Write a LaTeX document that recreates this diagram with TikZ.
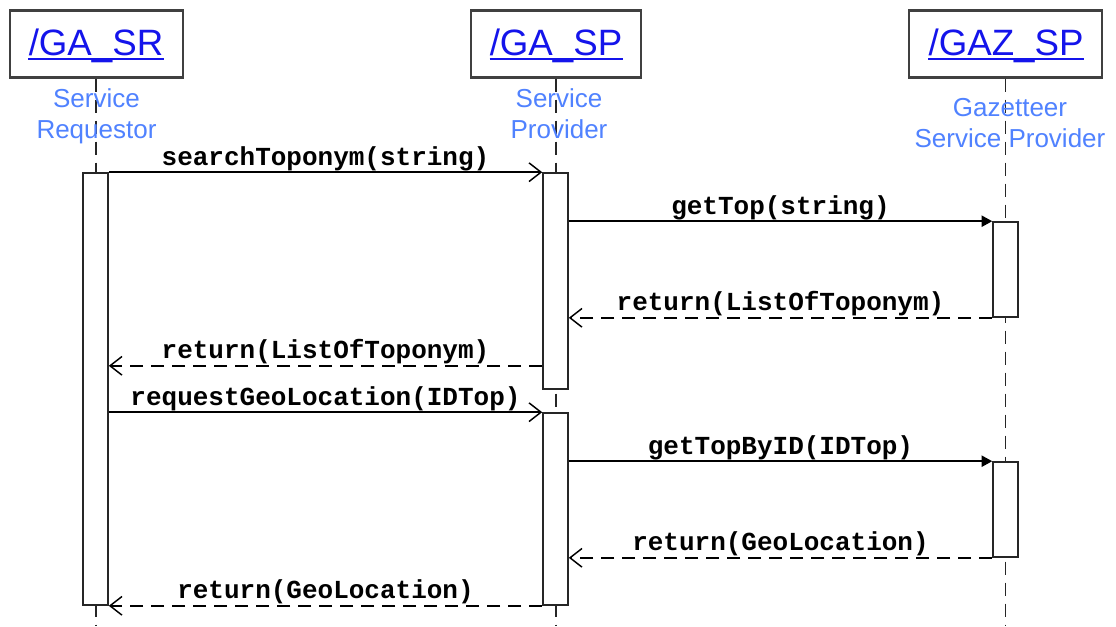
\documentclass[tikz,border=0pt]{standalone}
\usepackage{fontspec}
\setmainfont{Liberation Sans}
\setmonofont{Liberation Mono}
\usetikzlibrary{arrows.meta}
\definecolor{namecol}{RGB}{20,20,235}
\definecolor{subcol}{RGB}{80,130,255}
\begin{document}
\begin{tikzpicture}[x=0.75pt,y=-0.75pt,
  hdrbox/.style={draw=black!75, line width=1.6pt, fill=white, minimum height=50.25pt, inner sep=0pt},
  pname/.style={font=\fontsize{27.5}{33}\selectfont, text=namecol, anchor=base, inner sep=0pt},
  uline/.style={draw=namecol, line width=1.2pt},
  subtitle/.style={font=\fontsize{19.5}{23.25}\selectfont, text=subcol, align=center, inner sep=0pt, anchor=base},
  lifeline/.style={draw=black!85, line width=1.1pt, dash pattern=on 9.75pt off 6pt},
  actbox/.style={draw=black!85, line width=1.2pt, fill=white, minimum width=18.75pt, inner sep=0pt},
  msgarrow/.style={line width=1.1pt, -{Straight Barb[length=9pt,width=14pt]}},
  callarrow/.style={line width=1.1pt, -{Triangle[length=8pt,width=8.5pt]}},
  retarrow/.style={msgarrow, dash pattern=on 9.75pt off 6pt},
  msglabel/.style={font=\ttfamily\bfseries\fontsize{19.5}{22}\selectfont, anchor=base, yshift=5.25pt, inner sep=0pt}]
\useasboundingbox (0,0) rectangle (1116,626);
\fill[white] (0,0) rectangle (1116,626);

% header boxes
\node[hdrbox, minimum width=129.75pt] (hSR) at (96.5,44) {};
\node[hdrbox, minimum width=127.5pt] (hSP) at (556,44) {};
\node[hdrbox, minimum width=144.75pt] (hGAZ) at (1005.5,44) {};

% lifelines
\coordinate (eSR) at (96,626);
\coordinate (eSP) at (556,626);
\coordinate (eGAZ) at (1005.5,626);
\draw[lifeline] (hSR.south -| eSR) -- (eSR);
\draw[lifeline] (hSP.south -| eSP) -- (eSP);
\draw[lifeline] (hGAZ.south -| eGAZ) -- (eGAZ);

% names
\node[pname] (nSR) at (96,55) {/GA\_SR};
\node[pname] (nSP) at (556,55) {/GA\_SP};
\node[pname] (nGAZ) at (1006,55) {/GAZ\_SP};
\draw[uline] ([yshift=-3pt]nSR.base west) -- ([yshift=-3pt]nSR.base east);
\draw[uline] ([yshift=-3pt]nSP.base west) -- ([yshift=-3pt]nSP.base east);
\draw[uline] ([yshift=-3pt]nGAZ.base west) -- ([yshift=-3pt]nGAZ.base east);

% subtitles (base = baseline of the last line)
\node[subtitle] (sSR) at (96.5,138) {Service\\Requestor};
\node[subtitle] (sSP) at (559,138) {Service\\Provider};
\node[subtitle] (sGAZ) at (1010,147) {Gazetteer\\Service Provider};

% activation boxes
\node[actbox, minimum height=324pt] (aSR) at (95.5,389) {};
\node[actbox, minimum height=162pt] (aSP1) at (555.5,281) {};
\node[actbox, minimum height=144pt] (aSP2) at (555.5,509) {};
\node[actbox, minimum height=71.25pt] (aGAZ1) at (1005.5,269.5) {};
\node[actbox, minimum height=71.25pt] (aGAZ2) at (1005.5,509.5) {};

% messages
\draw[msgarrow] (aSR.north east) -- node[msglabel, midway] {searchToponym(string)} (aSP1.north west);
\draw[callarrow] (aSP1.east |- aGAZ1.north west) -- node[msglabel, midway] {getTop(string)} (aGAZ1.north west);
\draw[retarrow] (aGAZ1.south west) -- node[msglabel, midway] {return(ListOfToponym)} (aSP1.east |- aGAZ1.south west);
\coordinate (r4) at ([yshift=18pt]aSP1.south west);
\draw[retarrow] (r4) -- node[msglabel, midway] {return(ListOfToponym)} (r4 -| aSR.east);
\draw[msgarrow] (aSR.east |- aSP2.north west) -- node[msglabel, midway] {requestGeoLocation(IDTop)} (aSP2.north west);
\draw[callarrow] (aSP2.east |- aGAZ2.north west) -- node[msglabel, midway] {getTopByID(IDTop)} (aGAZ2.north west);
\draw[retarrow] (aGAZ2.south west) -- node[msglabel, midway] {return(GeoLocation)} (aSP2.east |- aGAZ2.south west);
\draw[retarrow] (aSP2.south west) -- node[msglabel, midway] {return(GeoLocation)} (aSR.south east);
\end{tikzpicture}
\end{document}
